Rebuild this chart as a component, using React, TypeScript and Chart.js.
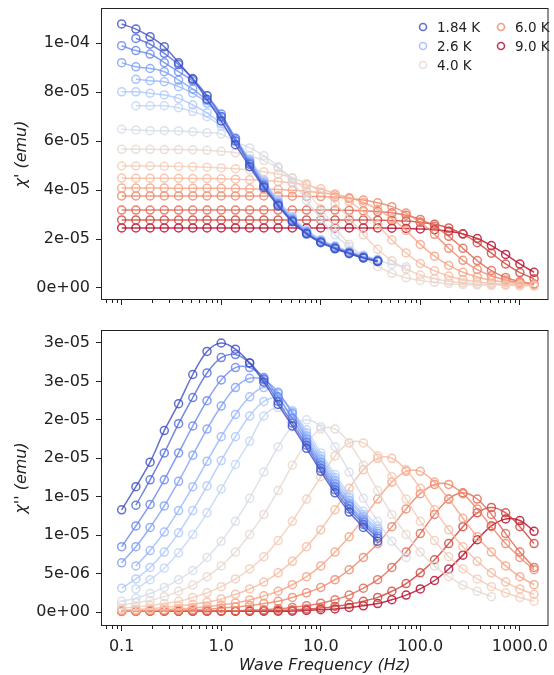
import React, { useEffect, useRef } from "react";
import { Chart, registerables } from "chart.js";

Chart.register(...registerables);
Chart.defaults.font.family = "'DejaVu Sans', sans-serif";

// Frequencies (Hz), 7 points per decade
const FREQS = [0.1, 0.139, 0.193, 0.268, 0.373, 0.518, 0.72, 1.0, 1.39, 1.93, 2.68, 3.73, 5.18, 7.2, 10.0, 13.9, 19.3, 26.8, 37.3, 51.8, 72.0, 100, 139, 193, 268, 373, 518, 720, 1000, 1389];

// Index into FREQS of the first point of each curve
const START = [0, 1, 0, 0, 1, 0, 1, 0, 0, 0, 0, 0, 0, 0, 0, 0];

// coolwarm colours, coldest to warmest curve
const COLORS = ["59,76,192", "78,105,216", "101,133,236", "123,158,248", "147,181,255", "170,199,254", "192,212,245", "212,219,231", "230,215,208", "242,202,182", "247,184,156", "246,160,129", "238,132,103", "224,100,80", "205,65,58", "180,4,38"];

const LEGEND_LABELS = ["1.84 K", "2.6 K", "4.0 K", "6.0 K", "9.0 K"];
const LEGEND_SERIES = [0, 4, 8, 12, 15];

// chi' values, in units of 1e-5 emu
const re00 = [10.78, 10.57, 10.26, 9.85, 9.20, 8.52, 7.70, 6.82, 5.85, 4.95, 4.10, 3.35, 2.70, 2.20, 1.85, 1.60, 1.40, 1.22, 1.08];
const re01 = [10.19, 9.95, 9.58, 9.12, 8.55, 7.85, 7.00, 6.00, 5.05, 4.15, 3.38, 2.73, 2.22, 1.87, 1.62, 1.42, 1.24, 1.10];
const re02 = [9.89, 9.69, 9.55, 9.20, 8.83, 8.45, 7.85, 7.10, 6.10, 5.10, 4.20, 3.42, 2.76, 2.25, 1.89, 1.64, 1.44, 1.25, 1.11];
const re03 = [9.20, 9.03, 8.96, 8.83, 8.49, 8.12, 7.65, 7.00, 6.10, 5.15, 4.25, 3.45, 2.80, 2.28, 1.91, 1.66, 1.45, 1.27, 1.12];
const re04 = [8.52, 8.46, 8.42, 8.22, 7.95, 7.55, 6.95, 6.12, 5.20, 4.30, 3.50, 2.83, 2.30, 1.93, 1.68, 1.47, 1.28, 1.13];
const re05 = [8.01, 8.01, 7.95, 7.88, 7.74, 7.47, 7.15, 6.70, 6.05, 5.22, 4.35, 3.55, 2.87, 2.33, 1.95, 1.70, 1.49, 1.30, 1.15];
const re06 = [7.44, 7.44, 7.44, 7.36, 7.20, 6.99, 6.60, 6.05, 5.28, 4.42, 3.60, 2.92, 2.37, 1.98, 1.72, 1.51, 1.32, 1.17];
const re07 = [6.48, 6.45, 6.42, 6.42, 6.41, 6.38, 6.34, 6.29, 5.97, 5.72, 5.40, 4.95, 4.33, 3.58, 2.82, 2.17, 1.69, 1.35, 1.12, 0.97, 0.87];
const re08 = [5.66, 5.66, 5.66, 5.65, 5.65, 5.64, 5.62, 5.58, 5.52, 5.40, 5.20, 4.90, 4.48, 3.93, 3.25, 2.47, 1.79, 1.26, 0.88, 0.60, 0.42, 0.31, 0.23, 0.18, 0.14, 0.12, 0.10];
const re09 = [4.98, 4.98, 4.98, 4.97, 4.96, 4.95, 4.93, 4.90, 4.87, 4.82, 4.75, 4.65, 4.50, 4.26, 3.92, 3.45, 2.86, 2.17, 1.58, 1.11, 0.78, 0.53, 0.38, 0.28, 0.21, 0.16, 0.13, 0.11, 0.09, 0.08];
const re10 = [4.49, 4.48, 4.48, 4.48, 4.48, 4.47, 4.47, 4.46, 4.44, 4.42, 4.39, 4.35, 4.29, 4.20, 4.05, 3.84, 3.54, 3.11, 2.58, 1.96, 1.43, 1.00, 0.70, 0.49, 0.34, 0.25, 0.19, 0.15, 0.12, 0.10];
const re11 = [4.08, 4.08, 4.08, 4.08, 4.07, 4.07, 4.07, 4.07, 4.06, 4.05, 4.03, 4.02, 3.99, 3.95, 3.89, 3.81, 3.69, 3.49, 3.21, 2.83, 2.35, 1.78, 1.30, 0.92, 0.64, 0.45, 0.32, 0.24, 0.18, 0.14];
const re12 = [3.76, 3.76, 3.76, 3.76, 3.76, 3.76, 3.76, 3.76, 3.76, 3.76, 3.76, 3.76, 3.75, 3.74, 3.73, 3.71, 3.65, 3.59, 3.48, 3.32, 3.06, 2.68, 2.19, 1.62, 1.13, 0.75, 0.50, 0.33, 0.22, 0.16];
const re13 = [3.18, 3.18, 3.18, 3.18, 3.18, 3.18, 3.18, 3.18, 3.18, 3.18, 3.18, 3.18, 3.18, 3.18, 3.18, 3.18, 3.17, 3.15, 3.12, 3.07, 2.97, 2.80, 2.52, 2.11, 1.62, 1.12, 0.71, 0.43, 0.26, 0.16];
const re14 = [2.78, 2.78, 2.78, 2.78, 2.78, 2.78, 2.78, 2.78, 2.78, 2.78, 2.78, 2.78, 2.78, 2.78, 2.78, 2.78, 2.78, 2.78, 2.77, 2.75, 2.73, 2.68, 2.60, 2.45, 2.20, 1.85, 1.42, 0.98, 0.63, 0.38];
const re15 = [2.45, 2.45, 2.45, 2.45, 2.45, 2.45, 2.45, 2.45, 2.45, 2.45, 2.45, 2.45, 2.45, 2.45, 2.45, 2.45, 2.45, 2.45, 2.45, 2.44, 2.43, 2.41, 2.38, 2.32, 2.21, 2.02, 1.73, 1.37, 0.98, 0.64];

// chi'' values, in units of 1e-5 emu
const im00 = [1.33, 1.63, 1.95, 2.36, 2.71, 3.09, 3.39, 3.50, 3.42, 3.24, 2.99, 2.70, 2.42, 2.13, 1.83, 1.55, 1.30, 1.10, 0.92];
const im01 = [1.39, 1.72, 2.07, 2.45, 2.79, 3.11, 3.31, 3.35, 3.24, 3.03, 2.74, 2.46, 2.17, 1.87, 1.59, 1.34, 1.14, 0.96];
const im02 = [0.85, 1.12, 1.40, 1.72, 2.07, 2.42, 2.75, 3.02, 3.18, 3.18, 3.05, 2.80, 2.52, 2.21, 1.91, 1.63, 1.38, 1.17, 0.99];
const im03 = [0.64, 0.85, 1.10, 1.38, 1.70, 2.04, 2.38, 2.68, 2.92, 3.04, 3.02, 2.86, 2.58, 2.25, 1.95, 1.67, 1.41, 1.20, 1.02];
const im04 = [0.60, 0.80, 1.04, 1.32, 1.63, 1.96, 2.28, 2.57, 2.80, 2.92, 2.84, 2.60, 2.29, 1.99, 1.71, 1.45, 1.24, 1.05];
const im05 = [0.31, 0.43, 0.58, 0.78, 1.03, 1.32, 1.64, 1.97, 2.28, 2.55, 2.74, 2.78, 2.62, 2.33, 2.03, 1.75, 1.49, 1.27, 1.08];
const im06 = [0.30, 0.42, 0.57, 0.77, 1.01, 1.29, 1.60, 1.92, 2.22, 2.55, 2.66, 2.58, 2.37, 2.07, 1.79, 1.53, 1.31, 1.12];
const im07 = [0.14, 0.18, 0.24, 0.32, 0.42, 0.54, 0.71, 0.92, 1.18, 1.48, 1.82, 2.15, 2.41, 2.50, 2.41, 2.15, 1.82, 1.48, 1.18, 0.92, 0.71];
const im08 = [0.09, 0.12, 0.15, 0.20, 0.27, 0.35, 0.46, 0.60, 0.78, 1.01, 1.27, 1.58, 1.91, 2.20, 2.38, 2.38, 2.20, 1.91, 1.58, 1.27, 1.01, 0.78, 0.60, 0.46, 0.35, 0.27, 0.20];
const im09 = [0.049, 0.064, 0.084, 0.11, 0.14, 0.19, 0.25, 0.33, 0.43, 0.56, 0.72, 0.93, 1.18, 1.47, 1.76, 2.03, 2.20, 2.20, 2.03, 1.76, 1.47, 1.18, 0.93, 0.72, 0.56, 0.43, 0.33, 0.25, 0.19, 0.14];
const im10 = [0.026, 0.034, 0.044, 0.059, 0.077, 0.10, 0.13, 0.17, 0.23, 0.30, 0.39, 0.51, 0.66, 0.85, 1.07, 1.33, 1.61, 1.85, 2.00, 2.00, 1.85, 1.61, 1.33, 1.07, 0.85, 0.66, 0.51, 0.39, 0.30, 0.23];
const im11 = [0.015, 0.019, 0.024, 0.031, 0.041, 0.054, 0.07, 0.092, 0.118, 0.157, 0.21, 0.27, 0.355, 0.46, 0.60, 0.78, 0.98, 1.22, 1.47, 1.69, 1.83, 1.83, 1.69, 1.47, 1.22, 0.98, 0.78, 0.60, 0.46, 0.355];
const im12 = [0.008, 0.01, 0.013, 0.017, 0.022, 0.029, 0.037, 0.049, 0.064, 0.084, 0.11, 0.14, 0.19, 0.25, 0.32, 0.42, 0.55, 0.71, 0.89, 1.11, 1.34, 1.54, 1.66, 1.66, 1.54, 1.34, 1.11, 0.89, 0.71, 0.55];
const im13 = [0.01, 0.01, 0.01, 0.01, 0.01, 0.01, 0.01, 0.012, 0.016, 0.022, 0.031, 0.043, 0.06, 0.083, 0.115, 0.16, 0.22, 0.31, 0.42, 0.58, 0.78, 1.02, 1.27, 1.47, 1.55, 1.47, 1.27, 1.02, 0.78, 0.58];
const im14 = [0.01, 0.01, 0.01, 0.01, 0.01, 0.01, 0.01, 0.01, 0.01, 0.01, 0.014, 0.02, 0.027, 0.038, 0.052, 0.073, 0.10, 0.14, 0.19, 0.27, 0.37, 0.51, 0.68, 0.89, 1.11, 1.29, 1.36, 1.29, 1.11, 0.89];
const im15 = [0.01, 0.01, 0.01, 0.01, 0.01, 0.01, 0.01, 0.01, 0.01, 0.01, 0.01, 0.01, 0.01, 0.02, 0.03, 0.04, 0.06, 0.08, 0.11, 0.16, 0.22, 0.30, 0.41, 0.56, 0.74, 0.94, 1.12, 1.21, 1.19, 1.05];

const RE_SERIES = [re00, re01, re02, re03, re04, re05, re06, re07, re08, re09, re10, re11, re12, re13, re14, re15];
const IM_SERIES = [im00, im01, im02, im03, im04, im05, im06, im07, im08, im09, im10, im11, im12, im13, im14, im15];

// Axis ticks (y values in units of 1e-5)
const X_TICKS = [0.1, 1, 10, 100, 1000];
const X_TICK_LABELS = ["0.1", "1.0", "10.0", "100.0", "1000.0"];
const Y1_TICKS = [0, 2, 4, 6, 8, 10];
const Y1_TICK_LABELS = ["0e+00", "2e-05", "4e-05", "6e-05", "8e-05", "1e-04"];
const Y2_TICKS = [0, 0.5, 1, 1.5, 2, 2.5, 3, 3.5];
const Y2_TICK_LABELS = ["0e+00", "5e-06", "1e-05", "1e-05", "2e-05", "2e-05", "3e-05", "3e-05"];

const INK = "#222222";
const ALPHA = 0.8;

function rgba(c: string, a: number) {
  return `rgba(${c},${a})`;
}

function buildDatasets(series: number[][]) {
  return series.map((vals, i) => ({
    label: "T" + i,
    data: vals.map((v, j) => ({ x: FREQS[START[i] + j], y: v })),
    showLine: true,
    borderColor: rgba(COLORS[i], ALPHA),
    backgroundColor: "rgba(0,0,0,0)",
    pointBackgroundColor: "rgba(0,0,0,0)",
    pointBorderColor: rgba(COLORS[i], ALPHA),
    pointRadius: 4,
    pointBorderWidth: 1.5,
    borderWidth: 1.5,
    tension: 0.35,
    fill: false,
  }));
}

const framePlugin = {
  id: "frameMinor",
  afterDraw(chart: any) {
    const { ctx, chartArea: a, scales } = chart;
    ctx.save();
    ctx.strokeStyle = INK;
    ctx.lineWidth = 1;
    ctx.strokeRect(a.left + 0.5, a.top + 0.5, a.right - a.left - 1, a.bottom - a.top - 1);
    const xs = scales.x;
    ctx.beginPath();
    for (let d = -2; d <= 3; d++) {
      for (let m = 2; m <= 9; m++) {
        const v = m * Math.pow(10, d);
        if (v < xs.min || v > xs.max) continue;
        const px = Math.round(xs.getPixelForValue(v)) + 0.5;
        ctx.moveTo(px, a.bottom);
        ctx.lineTo(px, a.bottom + 3);
      }
    }
    ctx.stroke();
    ctx.restore();
  },
};

const LEGEND_POS = [[423, 27], [423, 46], [423, 65], [501, 27], [501, 46]];

const legendPlugin = {
  id: "insetLegend",
  afterDraw(chart: any) {
    const ctx = chart.ctx;
    ctx.save();
    ctx.font = "13.5px 'DejaVu Sans', sans-serif";
    ctx.textBaseline = "middle";
    ctx.textAlign = "left";
    LEGEND_LABELS.forEach((lab, i) => {
      const [x, y] = LEGEND_POS[i];
      ctx.beginPath();
      ctx.arc(x, y, 3.5, 0, Math.PI * 2);
      ctx.strokeStyle = rgba(COLORS[LEGEND_SERIES[i]], ALPHA);
      ctx.lineWidth = 1.6;
      ctx.stroke();
      ctx.fillStyle = INK;
      ctx.fillText(lab, x + 14, y + 1);
    });
    ctx.restore();
  },
};

function makeConfig(opts: {
  series: number[][];
  yMin: number;
  yMax: number;
  yTicks: number[];
  yLabels: string[];
  yTitle: string;
  padTop: number;
  xHeight: number;
  showX: boolean;
  legend: boolean;
}): any {
  const tickFont = { family: "'DejaVu Sans', sans-serif", size: 16 };
  const titleFont = { family: "'DejaVu Sans', sans-serif", size: 16, style: "italic" as const };
  return {
    type: "scatter",
    data: { datasets: buildDatasets(opts.series) },
    options: {
      animation: false,
      responsive: false,
      maintainAspectRatio: false,
      devicePixelRatio: 1,
      events: [],
      layout: { padding: { top: opts.padTop, right: 1, left: 0, bottom: 0 } },
      plugins: { legend: { display: false }, tooltip: { enabled: false } },
      scales: {
        x: {
          type: "logarithmic",
          position: "bottom",
          min: 0.062,
          max: 1940,
          afterBuildTicks: (s: any) => {
            s.ticks = X_TICKS.map((v) => ({ value: v }));
          },
          afterFit: (s: any) => {
            s.height = opts.xHeight;
            s.paddingLeft = 0;
            s.paddingRight = 0;
          },
          ticks: {
            callback: (_v: any, i: number) => (opts.showX ? X_TICK_LABELS[i] : ""),
            font: tickFont,
            color: INK,
            padding: 6,
            maxRotation: 0,
            autoSkip: false,
          },
          grid: { display: true, drawOnChartArea: false, drawTicks: true, tickLength: 5, tickColor: INK, tickWidth: 1 },
          border: { display: false },
          title: {
            display: opts.showX,
            text: "Wave Frequency (Hz)",
            font: titleFont,
            color: INK,
            padding: { top: 0, bottom: 0 },
          },
        },
        y: {
          type: "linear",
          min: opts.yMin,
          max: opts.yMax,
          afterBuildTicks: (s: any) => {
            s.ticks = opts.yTicks.map((v) => ({ value: v }));
          },
          afterFit: (s: any) => {
            s.width = 101;
            s.paddingTop = 0;
            s.paddingBottom = 0;
          },
          ticks: {
            callback: (_v: any, i: number) => opts.yLabels[i],
            font: tickFont,
            color: INK,
            padding: 6,
            autoSkip: false,
          },
          grid: { display: true, drawOnChartArea: false, drawTicks: true, tickLength: 5, tickColor: INK, tickWidth: 1 },
          border: { display: false },
          title: {
            display: true,
            text: opts.yTitle,
            font: titleFont,
            color: INK,
            padding: { top: 12, bottom: 0 },
          },
        },
      },
    },
    plugins: opts.legend ? [framePlugin, legendPlugin] : [framePlugin],
  };
}

export default function App() {
  const topRef = useRef<HTMLCanvasElement>(null);
  const botRef = useRef<HTMLCanvasElement>(null);

  useEffect(() => {
    const c1 = new Chart(
      topRef.current as HTMLCanvasElement,
      makeConfig({
        series: RE_SERIES,
        yMin: -0.49,
        yMax: 11.43,
        yTicks: Y1_TICKS,
        yLabels: Y1_TICK_LABELS,
        yTitle: "χ' (emu)",
        padTop: 8,
        xHeight: 18,
        showX: false,
        legend: true,
      })
    );
    const c2 = new Chart(
      botRef.current as HTMLCanvasElement,
      makeConfig({
        series: IM_SERIES,
        yMin: -0.182,
        yMax: 3.669,
        yTicks: Y2_TICKS,
        yLabels: Y2_TICK_LABELS,
        yTitle: "χ'' (emu)",
        padTop: 12,
        xHeight: 49,
        showX: true,
        legend: false,
      })
    );
    return () => {
      c1.destroy();
      c2.destroy();
    };
  }, []);

  return (
    <div style={{ position: "absolute", left: 0, top: 0, width: 554, height: 675, background: "#ffffff" }}>
      <canvas ref={topRef} width={554} height={318} style={{ position: "absolute", left: 0, top: 0, width: 554, height: 318 }} />
      <canvas ref={botRef} width={554} height={357} style={{ position: "absolute", left: 0, top: 318, width: 554, height: 357 }} />
    </div>
  );
}
